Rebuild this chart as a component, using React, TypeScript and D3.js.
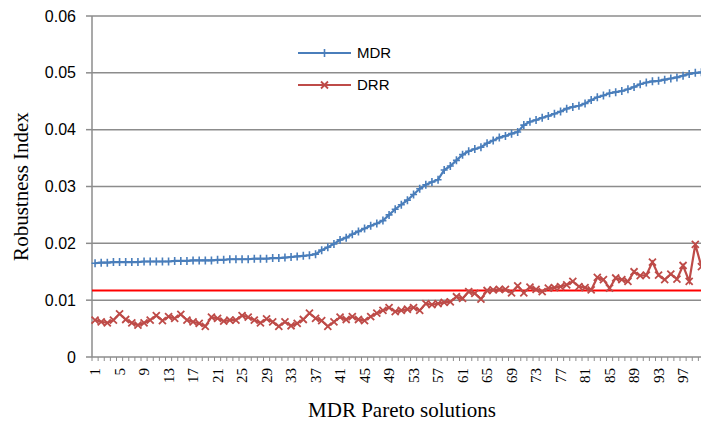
import React from "react";
import * as d3 from "d3";

// Robustness index of each MDR Pareto solution, under MDR and DRR
const solutions: number[] = d3.range(1, 101);

const mdrValues: number[] = [
  0.0165, 0.0166, 0.0166, 0.0167, 0.0167, 0.0167, 0.0167, 0.0167, 0.0168, 0.0168,
  0.0168, 0.0168, 0.0168, 0.0169, 0.0169, 0.0169, 0.0170, 0.0170, 0.0170, 0.0170,
  0.0171, 0.0171, 0.0172, 0.0172, 0.0172, 0.0172, 0.0173, 0.0173, 0.0173, 0.0174,
  0.0174, 0.0175, 0.0176, 0.0177, 0.0178, 0.0179, 0.0181, 0.0188, 0.0193, 0.0199,
  0.0206, 0.0210, 0.0216, 0.0221, 0.0226, 0.0231, 0.0235, 0.0240, 0.0250, 0.0260,
  0.0268, 0.0276, 0.0286, 0.0296, 0.0303, 0.0308, 0.0312, 0.0329, 0.0336, 0.0346,
  0.0356, 0.0362, 0.0366, 0.0369, 0.0376, 0.0381, 0.0386, 0.0389, 0.0393, 0.0396,
  0.0408, 0.0414, 0.0417, 0.0421, 0.0424, 0.0428, 0.0432, 0.0437, 0.0440, 0.0442,
  0.0446, 0.0452, 0.0457, 0.0460, 0.0464, 0.0466, 0.0468, 0.0471, 0.0475, 0.0480,
  0.0483, 0.0485, 0.0486, 0.0488, 0.0490, 0.0492, 0.0495, 0.0498, 0.0500, 0.0501,
];

const drrValues: number[] = [
  0.0065, 0.0062, 0.0060, 0.0065, 0.0076, 0.0066, 0.0060, 0.0056, 0.0060, 0.0065,
  0.0073, 0.0064, 0.0071, 0.0068, 0.0075, 0.0065, 0.0062, 0.0059, 0.0054, 0.0070,
  0.0068, 0.0063, 0.0065, 0.0065, 0.0073, 0.0070, 0.0065, 0.0060, 0.0067, 0.0062,
  0.0054, 0.0062, 0.0055, 0.0059, 0.0066, 0.0077, 0.0068, 0.0064, 0.0054, 0.0062,
  0.0070, 0.0066, 0.0071, 0.0066, 0.0064, 0.0071, 0.0077, 0.0082, 0.0087, 0.0080,
  0.0082, 0.0084, 0.0087, 0.0082, 0.0094, 0.0092, 0.0094, 0.0096, 0.0097, 0.0106,
  0.0103, 0.0115, 0.0112, 0.0102, 0.0117, 0.0118, 0.0119, 0.0119, 0.0113, 0.0125,
  0.0113, 0.0123, 0.0119, 0.0115, 0.0121, 0.0122, 0.0124, 0.0127, 0.0133, 0.0124,
  0.0122, 0.0118, 0.0140, 0.0136, 0.0121, 0.0139, 0.0136, 0.0133, 0.0150, 0.0143,
  0.0144, 0.0167, 0.0144, 0.0136, 0.0146, 0.0137, 0.0161, 0.0133, 0.0198, 0.0159,
];

// Reference level drawn as a flat red line
const referenceLevel = 0.0117;

const yTicks: number[] = [0, 0.01, 0.02, 0.03, 0.04, 0.05, 0.06];
const xTickLabels: number[] = solutions.filter((s) => (s - 1) % 4 === 0);

const W = 701;
const H = 425;
const plotLeft = 92;
const plotTop = 16;
const plotBottom = 357;
const step = 6.125;
const plotRight = plotLeft + step * solutions.length;

const MDR_COLOR = "#4A7EBB";
const DRR_COLOR = "#BE4B48";
const GRID = "#8C8C8C";

const SANS = "'Liberation Sans', Arial, sans-serif";
const SERIF = "'Liberation Serif', 'Times New Roman', serif";

export default function App() {
  const x = d3
    .scaleBand<number>()
    .domain(solutions)
    .range([plotLeft, plotRight])
    .padding(0);
  const cx = (s: number) => (x(s) as number) + x.bandwidth() / 2;
  const y = d3.scaleLinear().domain([0, 0.06]).range([plotBottom, plotTop]);

  const line = d3
    .line<number>()
    .x((_, i) => cx(solutions[i]))
    .y((v) => y(v));

  const plus = (px: number, py: number, key: string, color: string) => (
    <path
      key={key}
      d={`M${px - 3.5},${py}H${px + 3.5}M${px},${py - 4}V${py + 4}`}
      stroke={color}
      strokeWidth={1.6}
      fill="none"
    />
  );
  const cross = (px: number, py: number, key: string, color: string) => (
    <path
      key={key}
      d={`M${px - 3.5},${py - 3.5}L${px + 3.5},${py + 3.5}M${px - 3.5},${py + 3.5}L${px + 3.5},${py - 3.5}`}
      stroke={color}
      strokeWidth={1.8}
      fill="none"
    />
  );

  const legendX1 = 298;
  const legendX2 = 351;
  const legendMid = (legendX1 + legendX2) / 2;

  return (
    <svg
      width={W}
      height={H}
      viewBox={`0 0 ${W} ${H}`}
      style={{ position: "fixed", left: 0, top: 0, background: "#fff" }}
    >
      <rect x={0} y={0} width={W} height={H} fill="#fff" />

      {/* horizontal gridlines and y ticks */}
      {yTicks.map((t) => (
        <g key={`g${t}`}>
          {t > 0 && (
            <line x1={plotLeft} x2={plotRight} y1={y(t)} y2={y(t)} stroke={GRID} strokeWidth={1.5} />
          )}
          <line x1={plotLeft - 6} x2={plotLeft} y1={y(t)} y2={y(t)} stroke={GRID} strokeWidth={1.5} />
          <text
            x={76}
            y={y(t)}
            dy="0.35em"
            textAnchor="end"
            fontFamily={SANS}
            fontSize={16}
            fill="#000"
          >
            {t === 0 ? "0" : t.toFixed(2)}
          </text>
        </g>
      ))}

      {/* axes */}
      <line x1={plotLeft} x2={plotLeft} y1={plotTop} y2={plotBottom} stroke={GRID} strokeWidth={1.5} />
      <line x1={plotLeft} x2={plotRight} y1={plotBottom} y2={plotBottom} stroke={GRID} strokeWidth={1.5} />

      {/* category tick marks */}
      {solutions.map((s) => (
        <line
          key={`t${s}`}
          x1={(x(s) as number) + x.bandwidth()}
          x2={(x(s) as number) + x.bandwidth()}
          y1={plotBottom}
          y2={plotBottom + 4}
          stroke={GRID}
          strokeWidth={1}
        />
      ))}
      <line x1={plotLeft} x2={plotLeft} y1={plotBottom} y2={plotBottom + 4} stroke={GRID} strokeWidth={1} />

      {/* x tick labels, rotated */}
      {xTickLabels.map((s) => (
        <text
          key={`xl${s}`}
          transform={`translate(${cx(s)},${plotBottom + 11}) rotate(-90)`}
          textAnchor="end"
          dy="0.35em"
          fontFamily={SERIF}
          fontSize={15}
          fill="#000"
        >
          {s}
        </text>
      ))}

      {/* reference level */}
      <line
        x1={plotLeft}
        x2={plotRight}
        y1={y(referenceLevel)}
        y2={y(referenceLevel)}
        stroke="#FF0000"
        strokeWidth={2}
      />

      {/* MDR series */}
      <path d={line(mdrValues) || ""} fill="none" stroke={MDR_COLOR} strokeWidth={2.2} />
      {mdrValues.map((v, i) => plus(cx(solutions[i]), y(v), `m${i}`, MDR_COLOR))}

      {/* DRR series */}
      <path d={line(drrValues) || ""} fill="none" stroke={DRR_COLOR} strokeWidth={2.2} />
      {drrValues.map((v, i) => cross(cx(solutions[i]), y(v), `d${i}`, DRR_COLOR))}

      {/* legend */}
      <line x1={legendX1} x2={legendX2} y1={53} y2={53} stroke={MDR_COLOR} strokeWidth={2.2} />
      {plus(legendMid, 53, "lm", MDR_COLOR)}
      <text x={357} y={53} dy="0.35em" fontFamily={SANS} fontSize={15} fill="#000">
        MDR
      </text>
      <line x1={legendX1} x2={legendX2} y1={85} y2={85} stroke={DRR_COLOR} strokeWidth={2.2} />
      {cross(legendMid, 85, "ld", DRR_COLOR)}
      <text x={357} y={85} dy="0.35em" fontFamily={SANS} fontSize={15} fill="#000">
        DRR
      </text>

      {/* axis titles */}
      <text
        transform={`translate(28,${(plotTop + plotBottom) / 2}) rotate(-90)`}
        textAnchor="middle"
        fontFamily={SERIF}
        fontSize={21}
        fill="#000"
      >
        Robustness Index
      </text>
      <text
        x={402}
        y={417}
        textAnchor="middle"
        fontFamily={SERIF}
        fontSize={21}
        fill="#000"
      >
        MDR Pareto solutions
      </text>
    </svg>
  );
}
